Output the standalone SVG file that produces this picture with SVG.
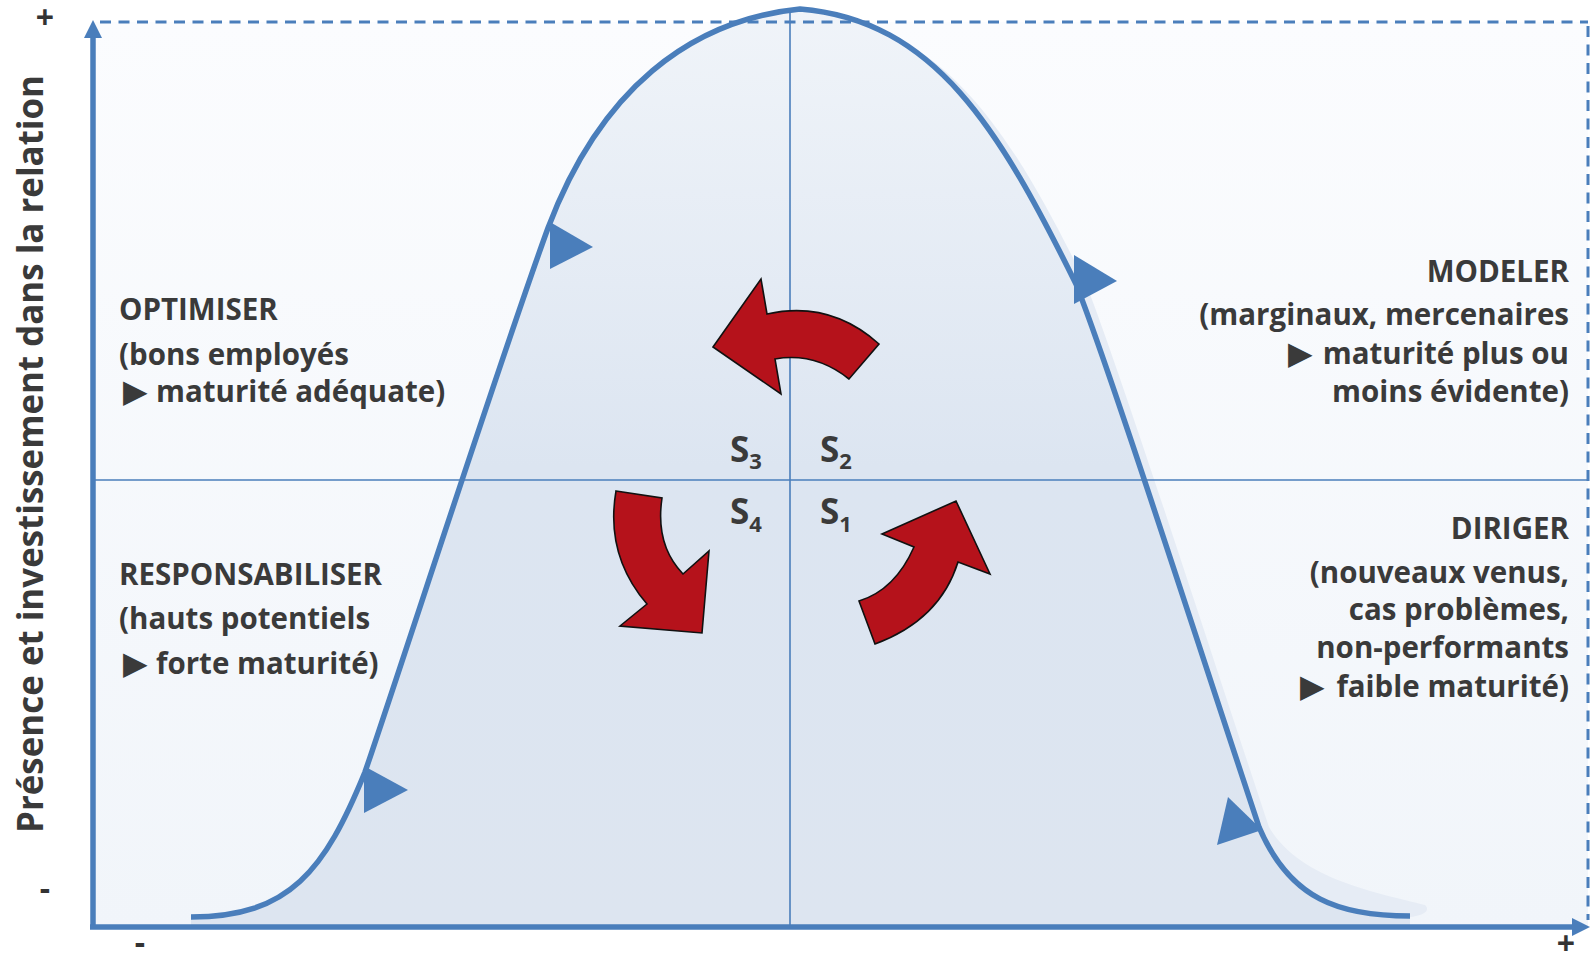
<svg xmlns="http://www.w3.org/2000/svg" width="1592" height="954" viewBox="0 0 1592 954">
<style>
.lbl{font-family:"Open Sans","Noto Sans",sans-serif;font-weight:700;font-size:29.5px;fill:#3a3a3a}
.tri{font-family:"DejaVu Sans",sans-serif;font-size:32px;font-weight:normal}
.s{font-family:"Open Sans","Noto Sans",sans-serif;font-weight:700;font-size:35px;fill:#3a3a3a}
.sub{font-size:22px}
.sign{font-family:"Open Sans","Noto Sans",sans-serif;font-weight:700;font-size:32px;fill:#333}
.axis{stroke:#4a7ebb;stroke-width:5.5;fill:none}
.dash{stroke:#4a7ebb;stroke-width:3;fill:none;stroke-dasharray:11 7.5}
.thin{stroke:#4a7ebb;stroke-width:1.6;fill:none}
.curve{stroke:#4a7ebb;stroke-width:5.5;fill:none;stroke-linecap:butt}
.mk{fill:#4a7ebb}
.red{fill:#b5121b;stroke:#111;stroke-width:1.6;stroke-linejoin:miter}
</style>
<defs>
<linearGradient id="bg" x1="0" y1="0" x2="0" y2="1">
<stop offset="0" stop-color="#fbfcfe"/>
<stop offset="1" stop-color="#f1f5fa"/>
</linearGradient>
<linearGradient id="bell" x1="0" y1="0" x2="0" y2="1">
<stop offset="0" stop-color="#f0f4f9"/>
<stop offset="0.5" stop-color="#dce5f1"/>
<stop offset="1" stop-color="#dde5f0"/>
</linearGradient>
</defs>
<rect x="0" y="0" width="1592" height="954" fill="#ffffff"/>
<rect x="92" y="22" width="1496" height="905" fill="url(#bg)"/>

<g id="bell-shape">
<path d="M200,925 L200,917 C300,917 335,870 375,772 C410,670 510,360 558,228 C610,90 700,20 806,12 C945,25 1010,130 1086,284 C1120,370 1210,650 1269,827 C1300,880 1380,893 1425,905 C1432,912 1420,916 1410,917 L1410,925 Z" fill="#e6ecf5"/>
<path d="M191,917 C290,917 325,870 365,772 C400,670 500,360 548,228 C600,90 690,20 800,9 C935,20 1000,130 1076,284 C1110,370 1200,650 1259,827 C1290,900 1340,916 1410,916 L1410,925 L191,925 Z" fill="url(#bell)"/>
</g>

<g id="quadrant-lines">
<line class="thin" x1="790" y1="12" x2="790" y2="927"/>
<line class="thin" x1="92" y1="480" x2="1588" y2="480"/>
</g>

<g id="axes">
<line class="dash" x1="100" y1="22" x2="1588" y2="22"/>
<line class="dash" x1="1588" y1="26" x2="1588" y2="920"/>
<line class="axis" x1="93" y1="927" x2="93" y2="36"/>
<polygon class="mk" points="93,20 84,38 102,38"/>
<line class="axis" x1="90" y1="927" x2="1574" y2="927"/>
<polygon class="mk" points="1590,927 1572,918 1572,936"/>
<text class="sign" x="45" y="29" text-anchor="middle">+</text>
<text class="sign" x="45" y="900" text-anchor="middle">-</text>
<text class="sign" x="140" y="954" text-anchor="middle">-</text>
<text class="sign" x="1566" y="955" text-anchor="middle">+</text>
<text class="lbl" transform="translate(43,454) rotate(-90)" text-anchor="middle" textLength="758" lengthAdjust="spacingAndGlyphs" style="font-size:36px">Présence et investissement dans la relation</text>
</g>

<g id="connectors">
<path class="curve" d="M191,917 C290,917 325,870 365,772 C400,670 500,360 548,228 C600,90 690,20 800,9 C935,20 1000,130 1076,284 C1110,370 1200,650 1259,827 C1290,900 1340,916 1410,916"/>
<polygon class="mk" points="364,766 364,813 408,790"/>
<polygon class="mk" points="550,222 550,269 593,247"/>
<polygon class="mk" points="1074,255 1074,304 1117,281"/>
<polygon class="mk" points="1228,797 1217,845 1262,830"/>
</g>

<g id="cycle-arrows">
<path id="arrow-s2-s3" class="red" d="M713,347 L761,279 L767,314 Q830,300 879,344 L849,379 Q815,352 775,359 L781,394 Z"/>
<path id="arrow-s3-s4" class="red" d="M616,491 L662,498 Q655,545 683,574 L709,551 L702,633 L620,626 L647,604 Q605,555 616,491 Z"/>
<path id="arrow-s1-s2" class="red" d="M859,601 L875,644 Q940,620 958,562 L990,574 L956,501 L882,534 L914,547 Q895,590 859,601 Z"/>
</g>

<g id="s-labels">
<text id="s3" class="s" x="730" y="462">S<tspan class="sub" dy="7">3</tspan></text>
<text id="s2" class="s" x="820" y="462">S<tspan class="sub" dy="7">2</tspan></text>
<text id="s4" class="s" x="730" y="524">S<tspan class="sub" dy="8">4</tspan></text>
<text id="s1" class="s" x="820" y="524">S<tspan class="sub" dy="8">1</tspan></text>
</g>

<g id="optimiser">
<text class="lbl" x="119" y="320">OPTIMISER</text>
<text class="lbl" x="119" y="365">(bons employés</text>
<text class="lbl" y="402"><tspan class="tri" x="123">▶</tspan><tspan x="156">maturité adéquate)</tspan></text>
</g>

<g id="responsabiliser">
<text class="lbl" x="119" y="585">RESPONSABILISER</text>
<text class="lbl" x="119" y="629">(hauts potentiels</text>
<text class="lbl" y="674"><tspan class="tri" x="123">▶</tspan><tspan x="156">forte maturité)</tspan></text>
</g>

<g id="modeler">
<text class="lbl" x="1569" y="282" text-anchor="end">MODELER</text>
<text class="lbl" x="1569" y="325" text-anchor="end">(marginaux, mercenaires</text>
<text class="lbl" y="364"><tspan class="tri" x="1288">▶</tspan><tspan x="1569" text-anchor="end">maturité plus ou</tspan></text>
<text class="lbl" x="1569" y="402" text-anchor="end">moins évidente)</text>
</g>

<g id="diriger">
<text class="lbl" x="1569" y="539" text-anchor="end">DIRIGER</text>
<text class="lbl" x="1569" y="583" text-anchor="end">(nouveaux venus,</text>
<text class="lbl" x="1569" y="620" text-anchor="end">cas problèmes,</text>
<text class="lbl" x="1569" y="658" text-anchor="end">non-performants</text>
<text class="lbl" y="697"><tspan class="tri" x="1300">▶</tspan><tspan x="1569" text-anchor="end">faible maturité)</tspan></text>
</g>
</svg>
